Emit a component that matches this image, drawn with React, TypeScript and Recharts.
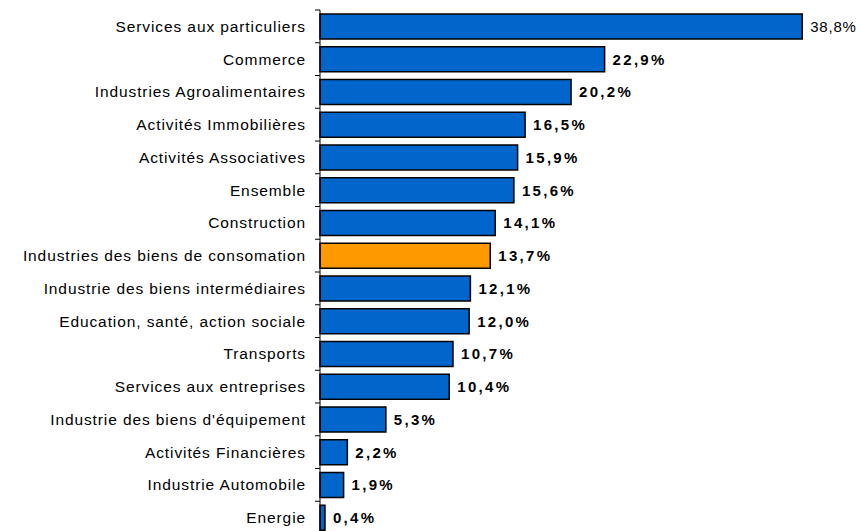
import { Bar, BarChart, Cell, LabelList, XAxis, YAxis } from 'recharts';

const SECTORS = [
  'Services aux particuliers',
  'Commerce',
  'Industries Agroalimentaires',
  'Activités Immobilières',
  'Activités Associatives',
  'Ensemble',
  'Construction',
  'Industries des biens de consomation',
  'Industrie des biens intermédiaires',
  'Education, santé, action sociale',
  'Transports',
  'Services aux entreprises',
  "Industrie des biens d'équipement",
  'Activités Financières',
  'Industrie Automobile',
  'Energie',
];

const SHARES = [38.8, 22.9, 20.2, 16.5, 15.9, 15.6, 14.1, 13.7, 12.1, 12.0, 10.7, 10.4, 5.3, 2.2, 1.9, 0.4];

const HIGHLIGHT = 'Industries des biens de consomation';

const BLUE = '#0066CC';
const ORANGE = '#FF9900';

const CHART_W = 861;
const CHART_H = 534;
const MARGIN = { top: 10, right: 19, bottom: 0, left: 0 };
const BAND = (CHART_H - MARGIN.top - MARGIN.bottom) / SECTORS.length;

const data = SECTORS.map((name, i) => ({ name, value: SHARES[i] }));

const fmt = (v: number) => `${v.toFixed(1).replace('.', ',')}%`;

function SectorTick(props: any) {
  const { x, y, payload } = props;
  return (
    <g>
      <line x1={x + 10} x2={x + 15} y1={y - BAND / 2} y2={y - BAND / 2} stroke="#000" strokeWidth={1} />
      <text
        x={x + 1}
        y={y}
        textAnchor="end"
        dominantBaseline="central"
        fontSize={15.5}
        letterSpacing={0.9}
        fill="#000"
        fontFamily="'Liberation Sans', Arial, sans-serif"
      >
        {payload.value}
      </text>
    </g>
  );
}

function ValueLabel(props: any) {
  const { x, y, width, height, value, index } = props;
  const first = index === 0;
  return (
    <text
      x={x + width + 8}
      y={y + height / 2}
      dominantBaseline="central"
      fontSize={15}
      fontWeight={first ? 'normal' : 'bold'}
      letterSpacing={first ? 0.8 : 2.3}
      fill="#000"
      fontFamily="'Liberation Sans', Arial, sans-serif"
    >
      {fmt(Number(value))}
    </text>
  );
}

export default function App() {
  return (
    <div style={{ position: 'fixed', left: 0, top: 0, width: 861, height: 531, overflow: 'hidden', background: '#fff' }}>
      <BarChart width={CHART_W} height={CHART_H} data={data} layout="vertical" margin={MARGIN} barCategoryGap="12%">
        <XAxis type="number" domain={[0, 42]} hide />
        <YAxis
          type="category"
          dataKey="name"
          width={320}
          interval={0}
          tickSize={5}
          tickMargin={10}
          tickLine={false}
          axisLine={{ stroke: '#000', strokeWidth: 1 }}
          tick={<SectorTick />}
        />
        <Bar dataKey="value" stroke="#000" strokeWidth={1.5} isAnimationActive={false}>
          {data.map((d) => (
            <Cell key={d.name} fill={d.name === HIGHLIGHT ? ORANGE : BLUE} />
          ))}
          <LabelList dataKey="value" content={<ValueLabel />} />
        </Bar>
      </BarChart>
    </div>
  );
}
